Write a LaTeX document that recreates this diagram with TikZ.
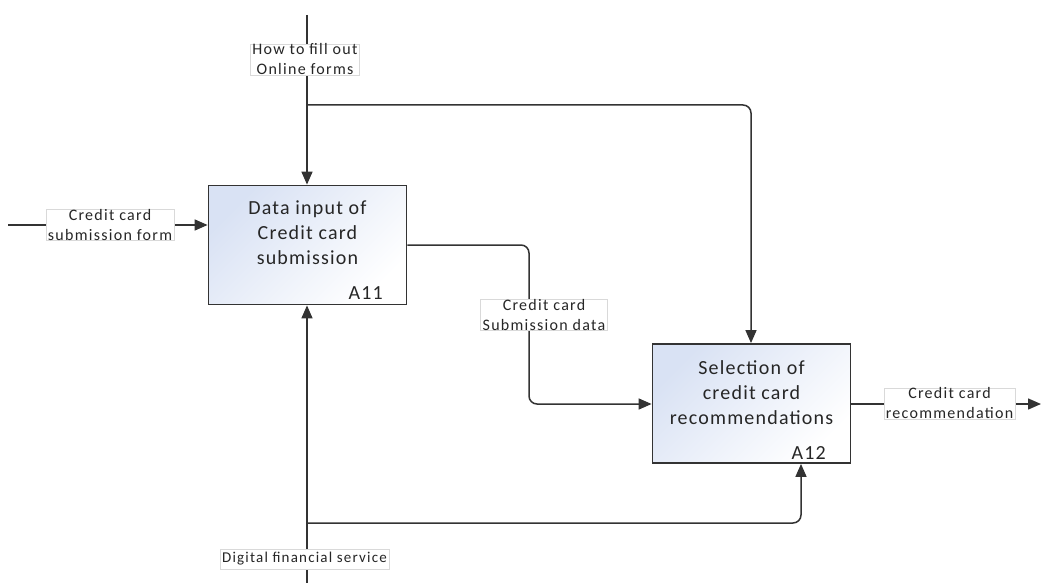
\documentclass[tikz,border=0pt]{standalone}
\usepackage{fontspec}
\setmainfont{Carlito}
\usetikzlibrary{arrows.meta}
\definecolor{ln}{HTML}{333333}
\definecolor{boxblue}{HTML}{D9E2F4}
\newfontfamily\actfont[LetterSpace=6]{Carlito}
\newfontfamily\labfont[LetterSpace=8]{Carlito}
\tikzset{
  x=1pt, y=-1pt,
  act/.style={draw=ln, line width=1.8pt, top color=boxblue, bottom color=white, shading angle=45,
    minimum width=198pt, minimum height=119pt, inner sep=0pt},
  acttext/.style={align=center, font=\actfont\fontsize{20}{25}\selectfont, text=black!85},
  actnum/.style={font=\actfont\fontsize{20}{24}\selectfont, text=black!85, inner sep=0pt},
  lab/.style={draw=black!15, fill=white, align=center, font=\labfont\fontsize{16}{20}\selectfont,
    inner xsep=2pt, inner ysep=0pt, text=black!85, minimum height=20pt},
  conn/.style={draw=ln, line width=1.5pt, rounded corners=8pt},
  arr/.style={-{Triangle[length=13pt,width=11pt]}},
}
\begin{document}
\begin{tikzpicture}
\useasboundingbox (0,0) rectangle (1041,583);
% activity boxes
\node[act] (a11) at (307.5,245) {};
\node[acttext] (a11t) at (307.5,233) {Data input of\\Credit card\\submission};
\node[actnum, anchor=east] (a11n) at (383,293) {A11};
\node[act] (a12) at (751.5,403.5) {};
\node[acttext] (a12t) at (751.5,393) {Selection of\\credit card\\recommendations};
\node[actnum, anchor=east] (a12n) at (826,453) {A12};
% coordinates
\coordinate (ctop) at (307,15);
\coordinate (cbr) at (307,105);
\coordinate (cbr2) at (751,105);
\coordinate (inl) at (8,225);
\coordinate (mbot) at (307,583);
\coordinate (mbr) at (307,523);
\coordinate (mbr2) at (801,523);
\coordinate (o1a) at (529,245);
\coordinate (o1b) at (529,404);
\coordinate (outr) at (1041,404);
% control
\draw[conn, arr] (ctop) -- (a11.north -| ctop);
\draw[conn, arr] (cbr) -- (cbr2) -- (a12.north -| cbr2);
\node[lab] (lctl) at (305,59.5) {How to fill out\\Online forms};
% input
\draw[conn, arr] (inl) -- (a11.west |- inl);
\node[lab] (lin) at (110,225) {Credit card\\submission form};
% mechanism
\draw[conn, arr] (mbot) -- (a11.south -| mbot);
\draw[conn, arr] (mbr) -- (mbr2) -- (a12.south -| mbr2);
\node[lab, font=\labfont\fontsize{15}{18}\selectfont, minimum height=20pt] (lmech) at (304.5,559) {Digital financial service};
% A11 output -> A12 input
\draw[conn, arr] (a11.east |- o1a) -- (o1a) -- (o1b) -- (a12.west |- o1b);
\node[lab] (lo1) at (544,315) {Credit card\\Submission data};
% A12 output
\draw[conn, arr] (a12.east |- outr) -- (outr);
\node[lab] (lo2) at (949.5,403.5) {Credit card\\recommendation};
\end{tikzpicture}
\end{document}
